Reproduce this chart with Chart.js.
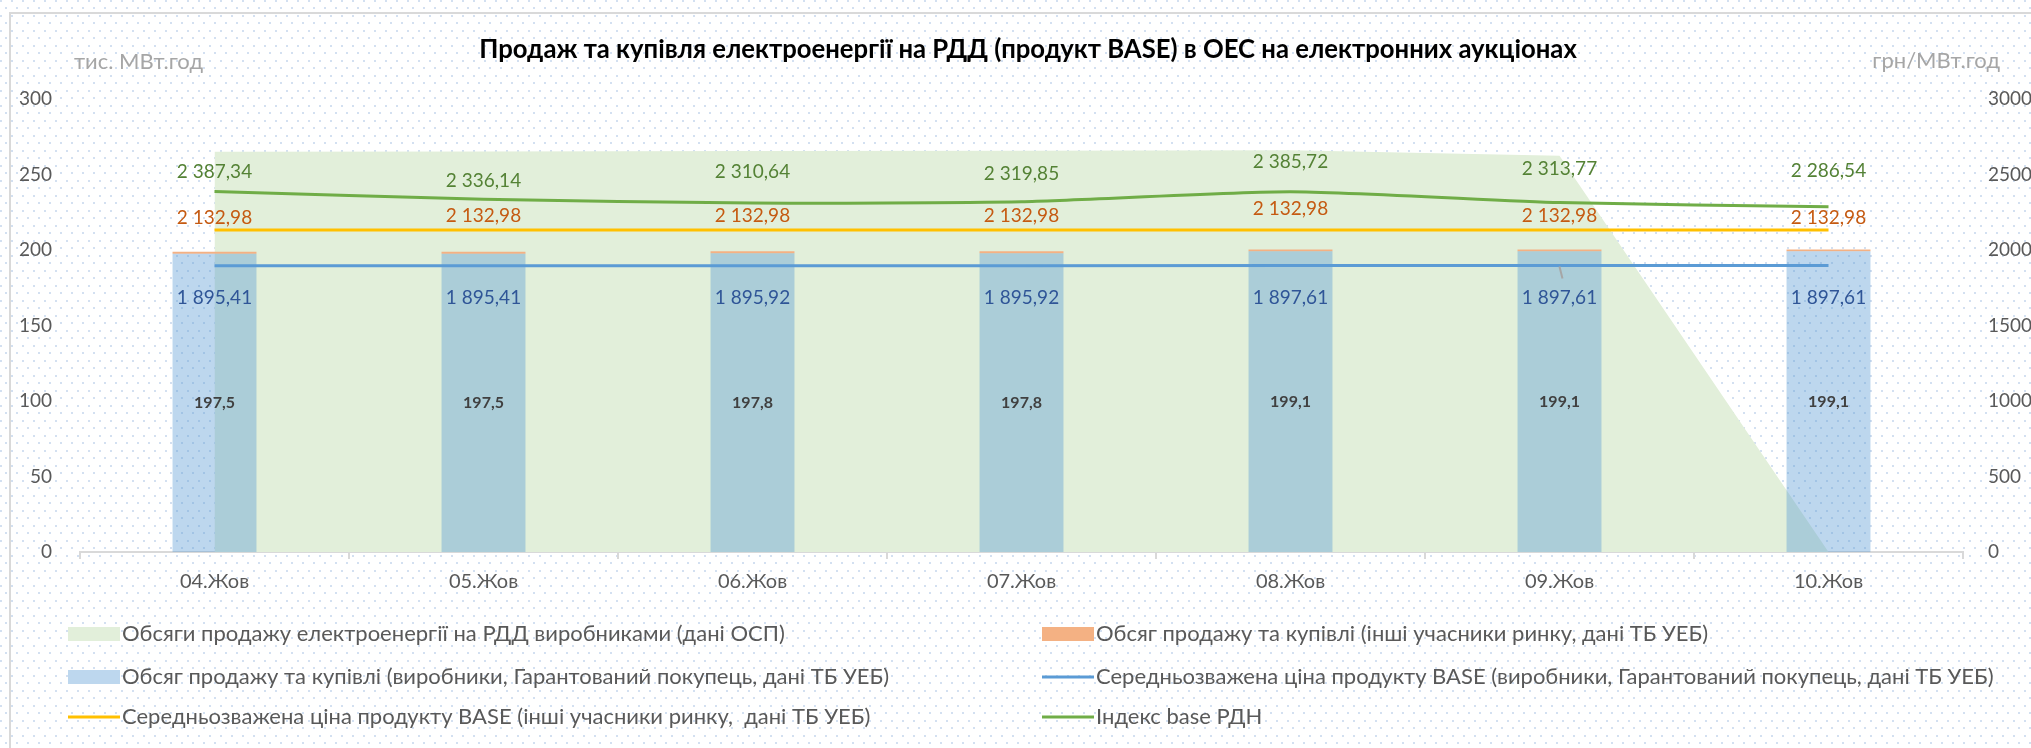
<!DOCTYPE html>
<html lang="uk">
<head>
<meta charset="utf-8">
<title>Продаж та купівля електроенергії на РДД</title>
<script src="https://cdn.jsdelivr.net/npm/chart.js@4.4.1/dist/chart.umd.min.js"></script>
<style>
    html, body { margin: 0; padding: 0; background: #fff; }
    #wrap { position: relative; width: 2031px; height: 748px; }
</style>
</head>
<body>
<div id="wrap"><canvas id="myChart" width="2031" height="748"></canvas></div>
<script>
let labelArray = ['04.Жов', '05.Жов', '06.Жов', '07.Жов', '08.Жов', '09.Жов', '10.Жов'];
let ospVolume = [265.0, 265.3, 265.5, 265.8, 266.0, 262.5, 0];
let producersVolume = [197.5, 197.5, 197.8, 197.8, 199.1, 199.1, 199.1];
let othersVolume = [1.3, 1.3, 1.3, 1.3, 1.3, 1.3, 1.3];
let producersPrice = [1895.41, 1895.41, 1895.92, 1895.92, 1897.61, 1897.61, 1897.61];
let othersPrice = [2132.98, 2132.98, 2132.98, 2132.98, 2132.98, 2132.98, 2132.98];
let baseIndex = [2387.34, 2336.14, 2310.64, 2319.85, 2385.72, 2313.77, 2286.54];
let leftTicks = [0, 50, 100, 150, 200, 250, 300];
let rightTicks = [0, 500, 1000, 1500, 2000, 2500, 3000];

const FONT = 'Lato, "Open Sans", sans-serif';

function fmt(v, d) {
    let parts = v.toFixed(d).split('.');
    let whole = parts[0].replace(/\B(?=(\d{3})+(?!\d))/g, ' ');
    return parts[1] ? whole + ',' + parts[1] : whole;
}

// dotted background + frame, like the Excel chart fill
const backdrop = {
    id: 'backdrop',
    beforeDraw(chart) {
        const c = chart.ctx;
        const tile = document.createElement('canvas');
        tile.width = 11; tile.height = 15;
        const t = tile.getContext('2d');
        t.fillStyle = '#d3e0f1';
        t.fillRect(0, 0, 2, 2);
        t.fillRect(5, 7, 2, 2);
        c.save();
        c.fillStyle = '#ffffff';
        c.fillRect(0, 0, chart.width, chart.height);
        c.fillStyle = c.createPattern(tile, 'repeat');
        c.fillRect(0, 0, chart.width, chart.height);
        c.strokeStyle = '#d9d9d9';
        c.lineWidth = 2;
        c.beginPath();
        c.moveTo(10, chart.height);
        c.lineTo(10, 13);
        c.lineTo(chart.width, 13);
        c.stroke();
        c.restore();
    }
};

// value labels next to the points and inside the bars
const valueLabels = {
    id: 'valueLabels',
    afterDatasetsDraw(chart, args, opts) {
        const c = chart.ctx;
        c.save();
        c.textAlign = 'center';
        c.textBaseline = 'middle';
        opts.items.forEach(item => {
            const meta = chart.getDatasetMeta(item.dataset);
            const data = chart.data.datasets[item.dataset].data;
            c.font = item.font;
            c.fillStyle = item.color;
            meta.data.forEach((el, i) => {
                let x = el.x, y;
                if (item.center) {
                    y = (el.y + el.base) / 2;
                } else {
                    let dy = Array.isArray(item.dy) ? item.dy[i] : item.dy;
                    y = el.y + dy;
                }
                c.fillText(fmt(data[i], item.decimals), x, y);
            });
        });
        // leader line of the moved label on 09.Жов
        const m = chart.getDatasetMeta(3).data[5];
        c.strokeStyle = '#a6a6a6';
        c.lineWidth = 2;
        c.beginPath();
        c.moveTo(m.x, m.y + 1);
        c.lineTo(m.x + 3, m.y + 13);
        c.stroke();
        c.restore();
    }
};

// title, axis titles and two-column legend
const decorations = {
    id: 'decorations',
    afterDraw(chart) {
        const c = chart.ctx;
        c.save();
        c.textBaseline = 'middle';
        c.fillStyle = '#000000';
        c.font = 'bold 25.7px ' + FONT;
        c.textAlign = 'center';
        c.fillText('Продаж та купівля електроенергії на РДД (продукт BASE) в ОЕС на електронних аукціонах', 1028, 50);

        c.fillStyle = '#a6a6a6';
        c.font = '22px ' + FONT;
        c.textAlign = 'left';
        c.fillText('тис. МВт.год', 74, 62);
        c.textAlign = 'right';
        c.fillText('грн/МВт.год', 2000, 61);

        const rows = [634, 677, 717];
        const cols = [68, 1042];
        c.textAlign = 'left';
        chart.data.datasets.forEach((ds, i) => {
            const x = cols[i % 2];
            const y = rows[Math.floor(i / 2)];
            if (ds.legendLine) {
                c.strokeStyle = ds.borderColor;
                c.lineWidth = 3;
                c.beginPath();
                c.moveTo(x, y);
                c.lineTo(x + 52, y);
                c.stroke();
            } else {
                c.fillStyle = ds.legendColor || ds.backgroundColor;
                c.fillRect(x, y - 7, 52, 14);
            }
            c.fillStyle = '#595959';
            c.font = '22px ' + FONT;
            c.fillText(ds.label, x + 54, y);
        });
        c.restore();
    }
};

const ctx = document.getElementById('myChart').getContext('2d');
const myChart = new Chart(ctx, {
    type: 'bar',
    data: {
        labels: labelArray,
        datasets: [
            {
                type: 'line',
                label: 'Обсяги продажу електроенергії на РДД виробниками (дані ОСП)',
                data: ospVolume,
                yAxisID: 'y',
                stack: 'osp',
                fill: 'origin',
                backgroundColor: '#e2efda',
                borderWidth: 0,
                pointRadius: 0,
                tension: 0,
                order: 10,
            },
            {
                label: 'Обсяг продажу та купівлі (інші учасники ринку, дані ТБ УЕБ)',
                data: othersVolume,
                yAxisID: 'y',
                stack: 'tb',
                backgroundColor: '#f4b183',
                order: 6,
            },
            {
                label: 'Обсяг продажу та купівлі (виробники, Гарантований покупець, дані ТБ УЕБ)',
                data: producersVolume,
                yAxisID: 'y',
                stack: 'tb',
                backgroundColor: 'rgba(91, 155, 213, 0.4)',
                legendColor: '#bdd7ee',
                order: 5,
            },
            {
                type: 'line',
                label: 'Середньозважена ціна продукту BASE (виробники, Гарантований покупець, дані ТБ УЕБ)',
                data: producersPrice,
                yAxisID: 'y1',
                borderColor: '#5b9bd5',
                borderWidth: 3,
                pointRadius: 0,
                fill: false,
                legendLine: true,
                order: 3,
            },
            {
                type: 'line',
                label: 'Середньозважена ціна продукту BASE (інші учасники ринку,  дані ТБ УЕБ)',
                data: othersPrice,
                yAxisID: 'y1',
                borderColor: '#ffc000',
                borderWidth: 3,
                pointRadius: 0,
                fill: false,
                legendLine: true,
                order: 2,
            },
            {
                type: 'line',
                label: 'Індекс base РДН',
                data: baseIndex,
                yAxisID: 'y1',
                borderColor: '#70ad47',
                borderWidth: 3,
                pointRadius: 0,
                tension: 0.2,
                fill: false,
                legendLine: true,
                order: 1,
            },
        ]
    },
    options: {
        responsive: false,
        animation: false,
        layout: {
            padding: { top: 99, left: 0, right: 0, bottom: 146 }
        },
        datasets: {
            bar: { barPercentage: 1, categoryPercentage: 0.312 }
        },
        scales: {
            x: {
                stacked: true,
                offset: true,
                grid: { display: true, drawOnChartArea: false, drawTicks: true, tickLength: 7, color: '#d9d9d9', lineWidth: 2, offset: true },
                border: { color: '#d9d9d9', width: 2 },
                ticks: { color: '#595959', font: { family: FONT, size: 20 }, padding: 11, maxRotation: 0 },
                afterFit: s => { s.height = 50; }
            },
            y: {
                position: 'left',
                stacked: true,
                min: 0,
                max: 300,
                grid: { display: false },
                border: { display: false },
                afterBuildTicks: s => { s.ticks = leftTicks.map(v => ({ value: v })); },
                ticks: { color: '#595959', font: { family: FONT, size: 19 }, padding: 20, callback: v => String(v) },
                afterFit: s => { s.width = 80; }
            },
            y1: {
                position: 'right',
                min: 0,
                max: 3000,
                grid: { display: false },
                border: { display: false },
                afterBuildTicks: s => { s.ticks = rightTicks.map(v => ({ value: v })); },
                ticks: { color: '#595959', font: { family: FONT, size: 19 }, padding: 17, callback: v => String(v) },
                afterFit: s => { s.width = 68; }
            }
        },
        plugins: {
            legend: { display: false },
            tooltip: { enabled: false },
            valueLabels: {
                items: [
                    { dataset: 5, decimals: 2, color: '#548235', font: '19px ' + FONT, dy: [-20, -18, -31, -28, -30, -34, -36] },
                    { dataset: 4, decimals: 2, color: '#c55a11', font: '19px ' + FONT, dy: [-12, -14, -14, -14, -21, -14, -12] },
                    { dataset: 3, decimals: 2, color: '#2f5597', font: '19px ' + FONT, dy: 32 },
                    { dataset: 2, decimals: 1, color: '#404040', font: 'bold 16px ' + FONT, center: true },
                ]
            }
        }
    },
    plugins: [backdrop, valueLabels, decorations]
});
</script>
</body>
</html>
